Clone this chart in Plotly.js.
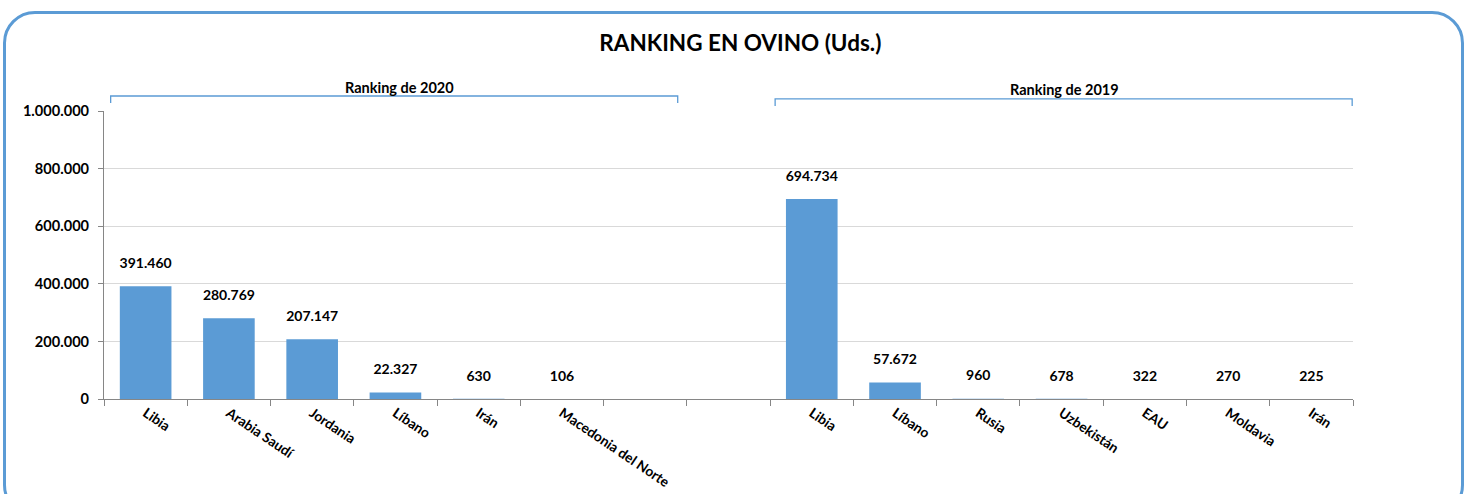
<!DOCTYPE html>
<html>
<head>
<meta charset="utf-8">
<script src="https://cdn.plot.ly/plotly-3.0.1.min.js"></script>
<style>
html,body{margin:0;padding:0;background:#fff;}
#wrap{position:relative;width:1466px;height:494px;overflow:hidden;}
#chart{position:absolute;left:0;top:0;width:1466px;height:494px;}
#frame{position:absolute;left:3px;top:11px;width:1455px;height:500px;border:3px solid #5b9bd5;border-radius:32px;pointer-events:none;}
</style>
</head>
<body>
<div id="wrap"><div id="chart"></div><div id="frame"></div></div>
<script>
const slots = [0,1,2,3,4,5,6,7,8,9,10,11,12,13,14];
const labels = ['Libia','Arabia Saudí','Jordania','Líbano','Irán','Macedonia del Norte','','',
                'Libia','Líbano','Rusia','Uzbekistán','EAU','Moldavia','Irán'];
const values = [391460,280769,207147,22327,630,106,null,null,
                694734,57672,960,678,322,270,225];
const groupNames = ['Ranking de 2020','Ranking de 2019'];

const blue = '#5b9bd5';
const fontFam = 'Lato, "Open Sans", sans-serif';

const bars = {
  type:'bar', x:slots, y:values, width:0.62,
  marker:{color:blue, line:{width:0}},
  hoverinfo:'skip', showlegend:false
};
const lbls = {
  type:'scatter', mode:'markers+text', x:slots, y:values,
  marker:{size:22, color:'rgba(0,0,0,0)'},
  texttemplate:'%{y:,}', textposition:'top center',
  textfont:{family:fontFam, size:14, color:'#000', weight:'bold'},
  hoverinfo:'skip', showlegend:false, cliponaxis:false
};

const layout = {
  width:1466, height:494,
  margin:{l:104, r:113, t:111, b:95},
  paper_bgcolor:'#fff', plot_bgcolor:'#fff',
  separators:',.',
  font:{family:fontFam, color:'#000'},
  title:{text:'<b>RANKING EN OVINO (Uds.)</b>', x:0.505, xanchor:'center', y:0.912, yanchor:'middle',
         font:{family:fontFam, size:22.5, color:'#000'}},
  xaxis:{
    range:[-0.5,14.5], tickmode:'array', tickvals:slots, ticktext:labels,
    tickangle:34, ticks:'', showgrid:false, zeroline:false,
    showline:true, linecolor:'#868686', linewidth:1,
    tickfont:{family:fontFam, size:13.8, color:'#000', weight:'bold'},
    minor:{tick0:-0.5, dtick:1, ticks:'outside', ticklen:6, tickcolor:'#868686', tickwidth:1, showgrid:false}
  },
  yaxis:{
    range:[0,1000000], dtick:200000, tickformat:',',
    showgrid:true, gridcolor:'#d9d9d9', gridwidth:1,
    zeroline:false, showline:true, linecolor:'#868686', linewidth:1,
    ticks:'outside', ticklen:5, tickcolor:'#868686', ticklabelstandoff:6,
    tickfont:{family:fontFam, size:14.6, color:'#000', weight:'bold'}
  },
  shapes:[
    {type:'path', xref:'x', yref:'paper', path:'M -0.42 1.028 L -0.42 1.052 L 6.39 1.052 L 6.39 1.028',
     line:{color:blue, width:1.3}},
    {type:'path', xref:'x', yref:'paper', path:'M 7.56 1.017 L 7.56 1.042 L 14.49 1.042 L 14.49 1.017',
     line:{color:blue, width:1.3}}
  ],
  annotations:[
    {xref:'x', yref:'paper', x:3.05, y:1.083, yanchor:'middle', text:'<b>'+groupNames[0]+'</b>', showarrow:false,
     font:{family:fontFam, size:14.5, color:'#000'}},
    {xref:'x', yref:'paper', x:11.04, y:1.073, yanchor:'middle', text:'<b>'+groupNames[1]+'</b>', showarrow:false,
     font:{family:fontFam, size:14.5, color:'#000'}}
  ]
};

Plotly.newPlot('chart',[bars,lbls],layout,{displayModeBar:false, staticPlot:true});
</script>
</body>
</html>
